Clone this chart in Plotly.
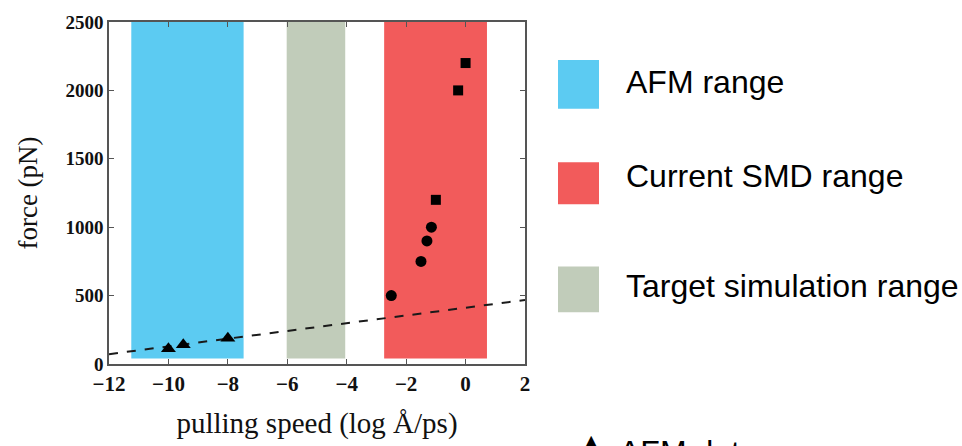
import plotly.graph_objects as go

# ---- data ----
band_names = ["AFM range", "Current SMD range", "Target simulation range"]
band_x0 = [-11.25, -2.74, -6.02]
band_x1 = [-7.47, 0.72, -4.05]
band_bottom = 40
band_top = 2500
band_colors = ["#5ccbf2", "#f25b5b", "#c1ccba"]

afm_x = [-10.0, -9.5, -8.0]
afm_y = [112, 140, 188]
circ_x = [-2.5, -1.5, -1.3, -1.15]
circ_y = [500, 750, 900, 1000]
sq_x = [-1.0, -0.25, 0.0]
sq_y = [1200, 2000, 2200]
fit_x = [-12, 2]
fit_y = [72, 468]

x_ticks = [-12, -10, -8, -6, -4, -2, 0, 2]
y_ticks = [0, 500, 1000, 1500, 2000, 2500]

W, H = 962, 446
L, R, T, B = 109, 525, 15, 366

fig = go.Figure()

for x0, x1, c in zip(band_x0, band_x1, band_colors):
    fig.add_shape(type="rect", xref="x", yref="y", x0=x0, x1=x1,
                  y0=band_bottom, y1=band_top, fillcolor=c,
                  line=dict(width=0), layer="below")

fig.add_trace(go.Scatter(x=fit_x, y=fit_y, mode="lines",
                         line=dict(color="#1a1a1a", width=2, dash="dash"),
                         showlegend=False))
fig.add_trace(go.Scatter(x=afm_x, y=afm_y, mode="markers",
                         marker=dict(symbol="triangle-up", size=13, color="black"),
                         showlegend=False))
fig.add_trace(go.Scatter(x=circ_x, y=circ_y, mode="markers",
                         marker=dict(symbol="circle", size=11, color="black"),
                         showlegend=False))
fig.add_trace(go.Scatter(x=sq_x, y=sq_y, mode="markers",
                         marker=dict(symbol="square", size=10, color="black"),
                         showlegend=False))

axis_common = dict(showline=True, linecolor="#555", linewidth=1.5, mirror="ticks",
                   ticks="inside", ticklen=5, tickcolor="#555", tickwidth=1,
                   showgrid=False, zeroline=False)

fig.update_xaxes(range=[-12, 2], tickvals=x_ticks, **axis_common,
                 tickfont=dict(family="Liberation Serif", size=21, color="#111", weight="bold"),
                 title=dict(text="pulling speed (log Å/ps)",
                            font=dict(family="Liberation Serif", size=29, color="#111"),
                            standoff=18))
fig.update_yaxes(range=[0, 2500], tickvals=y_ticks, **axis_common,
                 tickfont=dict(family="Liberation Serif", size=19, color="#111", weight="bold"),
                 title=dict(text="force (pN)",
                            font=dict(family="Liberation Serif", size=27, color="#111"),
                            standoff=20))

# legend (custom, right side)
def px_x(v):
    return (v - L) / (R - L)

def px_y(v):
    return (B - v) / (B - T)

leg_rows = [(54, 104, 77), (159, 202, 173), (266, 313, 286)]
for name, c, (ya, yb, yc) in zip(band_names, band_colors, leg_rows):
    fig.add_shape(type="rect", xref="paper", yref="paper",
                  x0=px_x(558), x1=px_x(599), y0=px_y(yb), y1=px_y(ya),
                  fillcolor=c, line=dict(width=0))
    fig.add_annotation(xref="paper", yref="paper", x=px_x(624), y=px_y(yc),
                       text=name, showarrow=False, xanchor="left", yanchor="middle",
                       font=dict(family="Liberation Sans", size=32, color="black"))

fig.add_annotation(xref="paper", yref="paper", x=px_x(591), y=px_y(444),
                   text="▲", showarrow=False, xanchor="center", yanchor="middle",
                   font=dict(family="DejaVu Sans", size=16, color="black"))
fig.add_annotation(xref="paper", yref="paper", x=px_x(617), y=px_y(456),
                   text="AFM data", showarrow=False,
                   xanchor="left", yanchor="middle",
                   font=dict(family="Liberation Sans", size=32, color="black"))

fig.update_layout(width=W, height=H, margin=dict(l=L, r=W - R, t=T, b=H - B),
                  paper_bgcolor="white", plot_bgcolor="white")

fig.write_html("out.html")
